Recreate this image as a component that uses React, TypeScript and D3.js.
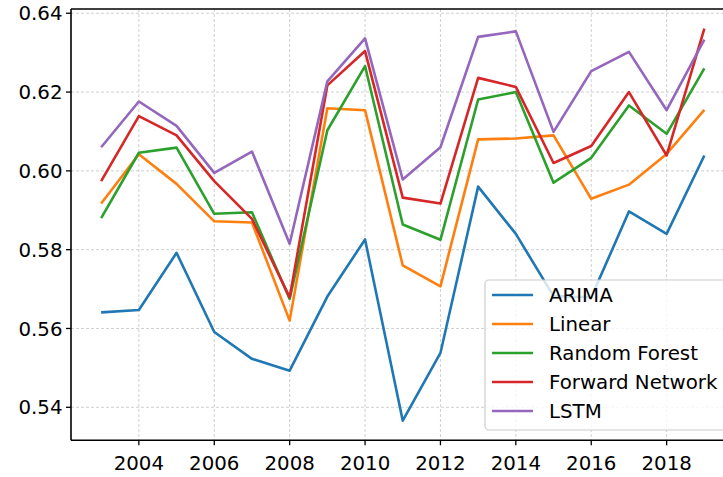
import React from "react";
import * as d3 from "d3";

const years = [2003, 2004, 2005, 2006, 2007, 2008, 2009, 2010, 2011, 2012, 2013, 2014, 2015, 2016, 2017, 2018, 2019];

const arima = [0.5641, 0.5647, 0.5792, 0.5591, 0.5523, 0.5493, 0.5681, 0.5826, 0.5366, 0.5538, 0.5960, 0.5840, 0.5682, 0.5679, 0.5897, 0.5840, 0.6039];
const linear = [0.5917, 0.6042, 0.5967, 0.5872, 0.5869, 0.5620, 0.6159, 0.6154, 0.5760, 0.5707, 0.6080, 0.6082, 0.6090, 0.5929, 0.5965, 0.6043, 0.6155];
const randomForest = [0.5880, 0.6046, 0.6059, 0.5891, 0.5895, 0.5675, 0.6103, 0.6266, 0.5864, 0.5825, 0.6181, 0.6200, 0.5970, 0.6033, 0.6166, 0.6094, 0.6260];
const forwardNetwork = [0.5974, 0.6139, 0.6090, 0.5974, 0.5878, 0.5679, 0.6217, 0.6304, 0.5932, 0.5917, 0.6236, 0.6213, 0.6020, 0.6063, 0.6200, 0.6039, 0.6361];
const lstm = [0.6060, 0.6176, 0.6114, 0.5995, 0.6049, 0.5815, 0.6227, 0.6336, 0.5978, 0.6060, 0.6340, 0.6354, 0.6099, 0.6253, 0.6302, 0.6154, 0.6333];

const seriesNames = ["ARIMA", "Linear", "Random Forest", "Forward Network", "LSTM"];
const seriesValues = [arima, linear, randomForest, forwardNetwork, lstm];
const colors = ["#1f77b4", "#ff7f0e", "#2ca02c", "#d62728", "#9467bd"];

const xTicks = [2004, 2006, 2008, 2010, 2012, 2014, 2016, 2018];
const yTicks = [0.54, 0.56, 0.58, 0.6, 0.62, 0.64];

const W = 723;
const H = 477;
const left = 71;
const right = 734.5; // plot runs past the picture edge
const top = 9;
const bottom = 440.3;
const font = "DejaVu Sans, sans-serif";

export default function App() {
  const allVals = seriesValues.flat();
  const [minV, maxV] = d3.extent(allVals) as [number, number];
  const pad = (maxV - minV) * 0.05;
  const x = d3.scaleLinear().domain([2002.2, 2019.8]).range([left, right]);
  const y = d3.scaleLinear().domain([minV - pad, maxV + pad]).range([bottom, top]);

  const line = d3
    .line<number>()
    .x((_, i) => x(years[i]))
    .y((d) => y(d));

  const legX = 485;
  const legY = 280;
  const rowH = 29;

  return (
    <svg width={W} height={H} style={{ position: "absolute", left: 0, top: 0, background: "#fff" }}>
      {/* grid */}
      <g stroke="#c4c4c4" strokeWidth={0.8} strokeDasharray="3,2">
        {xTicks.map((t) => (
          <line key={"gx" + t} x1={x(t)} x2={x(t)} y1={top} y2={bottom} />
        ))}
        {yTicks.map((t) => (
          <line key={"gy" + t} x1={left} x2={W} y1={y(t)} y2={y(t)} />
        ))}
      </g>

      {/* series */}
      {seriesValues.map((vals, i) => (
        <path key={seriesNames[i]} d={line(vals) || ""} fill="none" stroke={colors[i]} strokeWidth={2.6} strokeLinejoin="round" />
      ))}

      {/* spines */}
      <g stroke="#000" strokeWidth={1.6}>
        <line x1={left} x2={left} y1={top} y2={bottom} />
        <line x1={left} x2={W} y1={bottom} y2={bottom} />
        <line x1={left} x2={W} y1={top} y2={top} />
      </g>

      {/* x axis */}
      {xTicks.map((t) => (
        <g key={"xt" + t}>
          <line x1={x(t)} x2={x(t)} y1={bottom} y2={bottom + 5} stroke="#000" strokeWidth={1.3} />
          <text x={x(t)} y={470} textAnchor="middle" fontFamily={font} fontSize={19.8} fill="#000">
            {t}
          </text>
        </g>
      ))}

      {/* y axis */}
      {yTicks.map((t) => (
        <g key={"yt" + t}>
          <line x1={left - 5} x2={left} y1={y(t)} y2={y(t)} stroke="#000" strokeWidth={1.3} />
          <text x={62.5} y={y(t)} dy="0.36em" textAnchor="end" fontFamily={font} fontSize={19.8} fill="#000">
            {d3.format(".2f")(t)}
          </text>
        </g>
      ))}

      {/* legend */}
      <g>
        <rect x={legX} y={legY} width={260} height={150} rx={4} fill="#fff" fillOpacity={0.8} stroke="#cccccc" strokeWidth={1.2} />
        {seriesNames.map((name, i) => (
          <g key={"lg" + name}>
            <line x1={492} x2={533} y1={legY + 15 + i * rowH} y2={legY + 15 + i * rowH} stroke={colors[i]} strokeWidth={2.6} />
            <text x={549} y={legY + 15 + i * rowH} dy="0.36em" fontFamily={font} fontSize={19.8} fill="#000">
              {name}
            </text>
          </g>
        ))}
      </g>
    </svg>
  );
}
